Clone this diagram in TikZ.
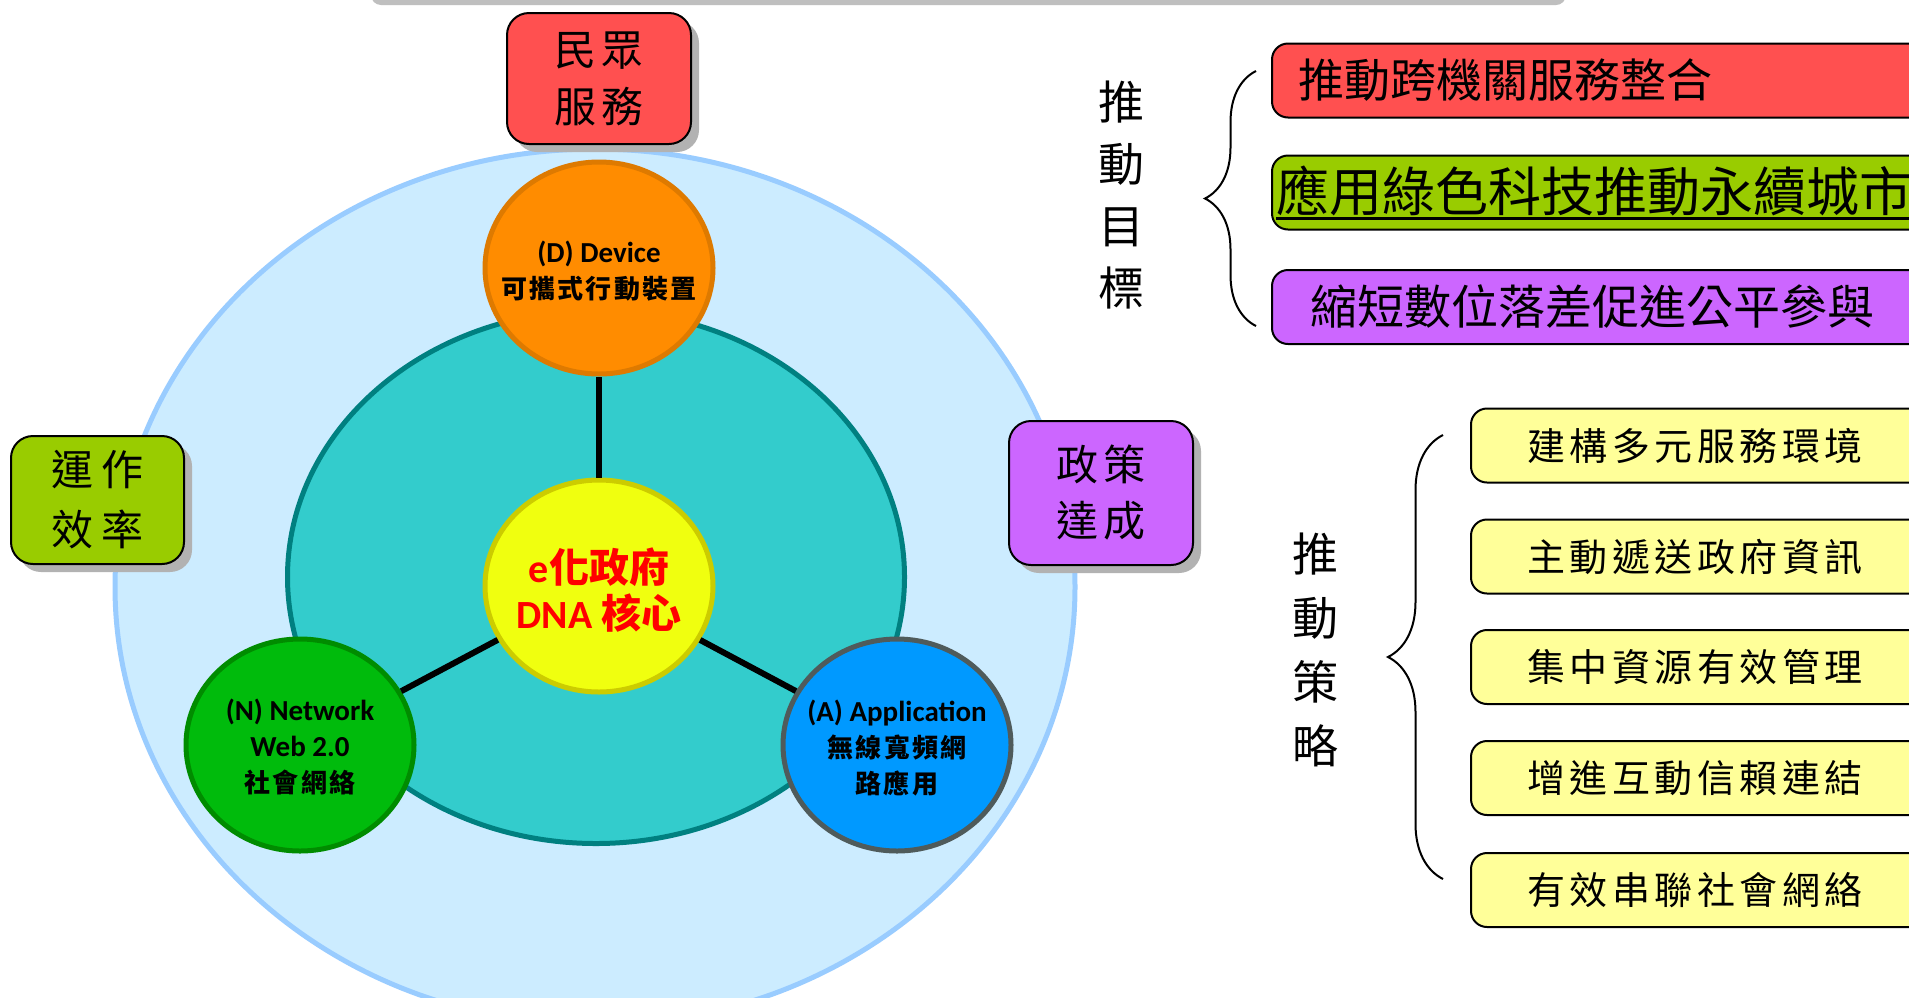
\documentclass[tikz,border=0pt]{standalone}
\usepackage{fontspec}
\setmainfont{Carlito}
\newfontfamily\cjk{Noto Sans CJK TC}
\newfontfamily\cjksp{Noto Sans CJK TC}[LetterSpace=8]
\newfontfamily\cjkls{Noto Sans CJK TC}[LetterSpace=12]
\usetikzlibrary{shapes.geometric,shadows,decorations.pathreplacing}
\definecolor{outerfill}{HTML}{CCECFF}
\definecolor{outerline}{HTML}{99CCFF}
\definecolor{tealfill}{HTML}{33CCCC}
\definecolor{tealline}{HTML}{008080}
\definecolor{devfill}{HTML}{FF8C00}
\definecolor{devline}{HTML}{DE7A00}
\definecolor{corefill}{HTML}{F0FF0F}
\definecolor{coreline}{HTML}{CCCC00}
\definecolor{netfill}{HTML}{00BB0C}
\definecolor{netline}{HTML}{008C00}
\definecolor{appfill}{HTML}{0099FF}
\definecolor{appline}{HTML}{4F5B5B}
\definecolor{redbox}{HTML}{FF5050}
\definecolor{greenbox}{HTML}{99CC00}
\definecolor{purplebox}{HTML}{CC66FF}
\definecolor{yellowbox}{HTML}{FFFF99}
\definecolor{bargray}{HTML}{BFBFBF}
\definecolor{shadowgray}{HTML}{B2B2B2}
\newcommand\zhc[1]{{\cjksp\fontsize{13}{18}\selectfont #1}}
\newcommand\ulbar[1]{\vtop{\hbox{#1}\kern0.5pt\hrule height 1.5pt}}
\begin{document}
\begin{tikzpicture}[x=0.5pt,y=-0.5pt,
  orb/.style={ellipse, inner sep=0pt, line width=2.5pt, minimum width=114pt, minimum height=106pt},
  orbtext/.style={align=center, inner sep=0pt, font=\fontsize{14.5}{18}\selectfont\bfseries},
  link/.style={line width=3pt, draw=black},
  side/.style={draw=black, line width=1pt, rounded corners=11pt, inner sep=0pt, align=center,
    font=\cjk\fontsize{21}{28.5}\selectfont,
    drop shadow={shadow xshift=4pt, shadow yshift=-4pt, fill=shadowgray, opacity=1}},
  goalbox/.style={draw=black, line width=1pt, rounded corners=8pt, anchor=west, minimum height=37pt, inner ysep=0pt, align=left},
  stratbox/.style={draw=black, line width=1pt, rounded corners=8pt, anchor=west, minimum height=37pt, inner ysep=0pt, inner xsep=28pt, text width=200pt, align=left, fill=yellowbox, font=\cjkls\fontsize{19}{19}\selectfont},
  vlabel/.style={align=center, inner sep=0pt},
  bracedeco/.style={line width=1pt, decorate}
]
\useasboundingbox (0,0) rectangle (1909,997);
\fill[white] (0,0) rectangle (1909,997);
\fill[bargray, rounded corners=5pt] (371,-40) rectangle (1566,5);

% rings
\node[ellipse, draw=outerline, fill=outerfill, line width=2.5pt, minimum width=480pt, minimum height=438pt, inner sep=0pt] (outer) at (595,587) {};
\node[ellipse, draw=tealline, fill=tealfill, line width=2.5pt, minimum width=308.5pt, minimum height=266.5pt, inner sep=0pt] (inner) at (596,577) {};

% orbs
\node[orb, fill=devfill, draw=devline] (dev) at (599,268) {};
\node[orb, fill=corefill, draw=coreline] (core) at (599,586) {};
\node[orb, fill=netfill, draw=netline] (net) at (300,745) {};
\node[orb, fill=appfill, draw=appline] (app) at (897,745) {};

\draw[link] (core) -- (dev);
\draw[link] (core) -- (net);
\draw[link] (core) -- (app);

\node[orbtext] (devtext) at (599,271) {(D) Device\\\zhc{可攜式行動裝置}};
\node[orbtext, text=red, font=\fontsize{20}{23}\selectfont\bfseries] (coretext) at (599,590) {e{\cjk 化政府}\\DNA {\cjk 核心}};
\node[orbtext] (nettext) at (300,747) {(N) Network\\Web 2.0\\\zhc{社會網絡}};
\node[orbtext] (apptext) at (897,748) {(A) Application\\\zhc{無線寬頻網}\\\zhc{路應用}};

% side boxes
\node[side, fill=redbox, minimum width=92pt, minimum height=65.5pt] (svc) at (599,78.5) {民\hspace{2.5pt}眾\\服\hspace{2.5pt}務};
\node[side, fill=greenbox, minimum width=86.5pt, minimum height=64pt, font=\cjk\fontsize{21}{30}\selectfont] (eff) at (97.5,500) {運\hspace{4pt}作\\效\hspace{4pt}率};
\node[side, fill=purplebox, minimum width=92pt, minimum height=72pt, font=\cjk\fontsize{21}{28}\selectfont] (pol) at (1101,493) {政\hspace{3pt}策\\達\hspace{3pt}成};

% goals
\node[vlabel, font=\cjk\fontsize{23}{31}\selectfont] (goallabel) at (1121,195) {推\\動\\目\\標};
\coordinate (b1top) at (1256,71);
\coordinate (b1bot) at (1256,326);
\draw[bracedeco, decoration={brace, amplitude=25.5pt}] (b1bot) -- (b1top);

\node[goalbox, fill=redbox, inner xsep=13pt, text width=310pt, font=\cjk\fontsize{23}{23}\selectfont] (g1) at (1271,80.5) {推動跨機關服務整合};
\node[goalbox, fill=greenbox, inner xsep=2pt, text width=330pt, font=\cjk\fontsize{26.5}{26.5}\selectfont] (g2) at (1271,192.5) {\ulbar{應用綠色科技推動永續城市}};
\node[goalbox, fill=purplebox, inner xsep=19pt, text width=310pt, font=\cjk\fontsize{23.5}{23.5}\selectfont] (g3) at (1271,307) {縮短數位落差促進公平參與};

% strategies
\node[vlabel, font=\cjk\fontsize{23}{32}\selectfont] (stratlabel) at (1315,650) {推\\動\\策\\略};
\coordinate (b2top) at (1443,435);
\coordinate (b2bot) at (1443,879);
\draw[bracedeco, decoration={brace, amplitude=27.5pt}] (b2bot) -- (b2top);

\node[stratbox] (s1) at (1470,445.5) {建構多元服務環境};
\node[stratbox] (s2) at (1470,556.5) {主動遞送政府資訊};
\node[stratbox] (s3) at (1470,667) {集中資源有效管理};
\node[stratbox] (s4) at (1470,778) {增進互動信賴連結};
\node[stratbox] (s5) at (1470,890) {有效串聯社會網絡};
\end{tikzpicture}
\end{document}
